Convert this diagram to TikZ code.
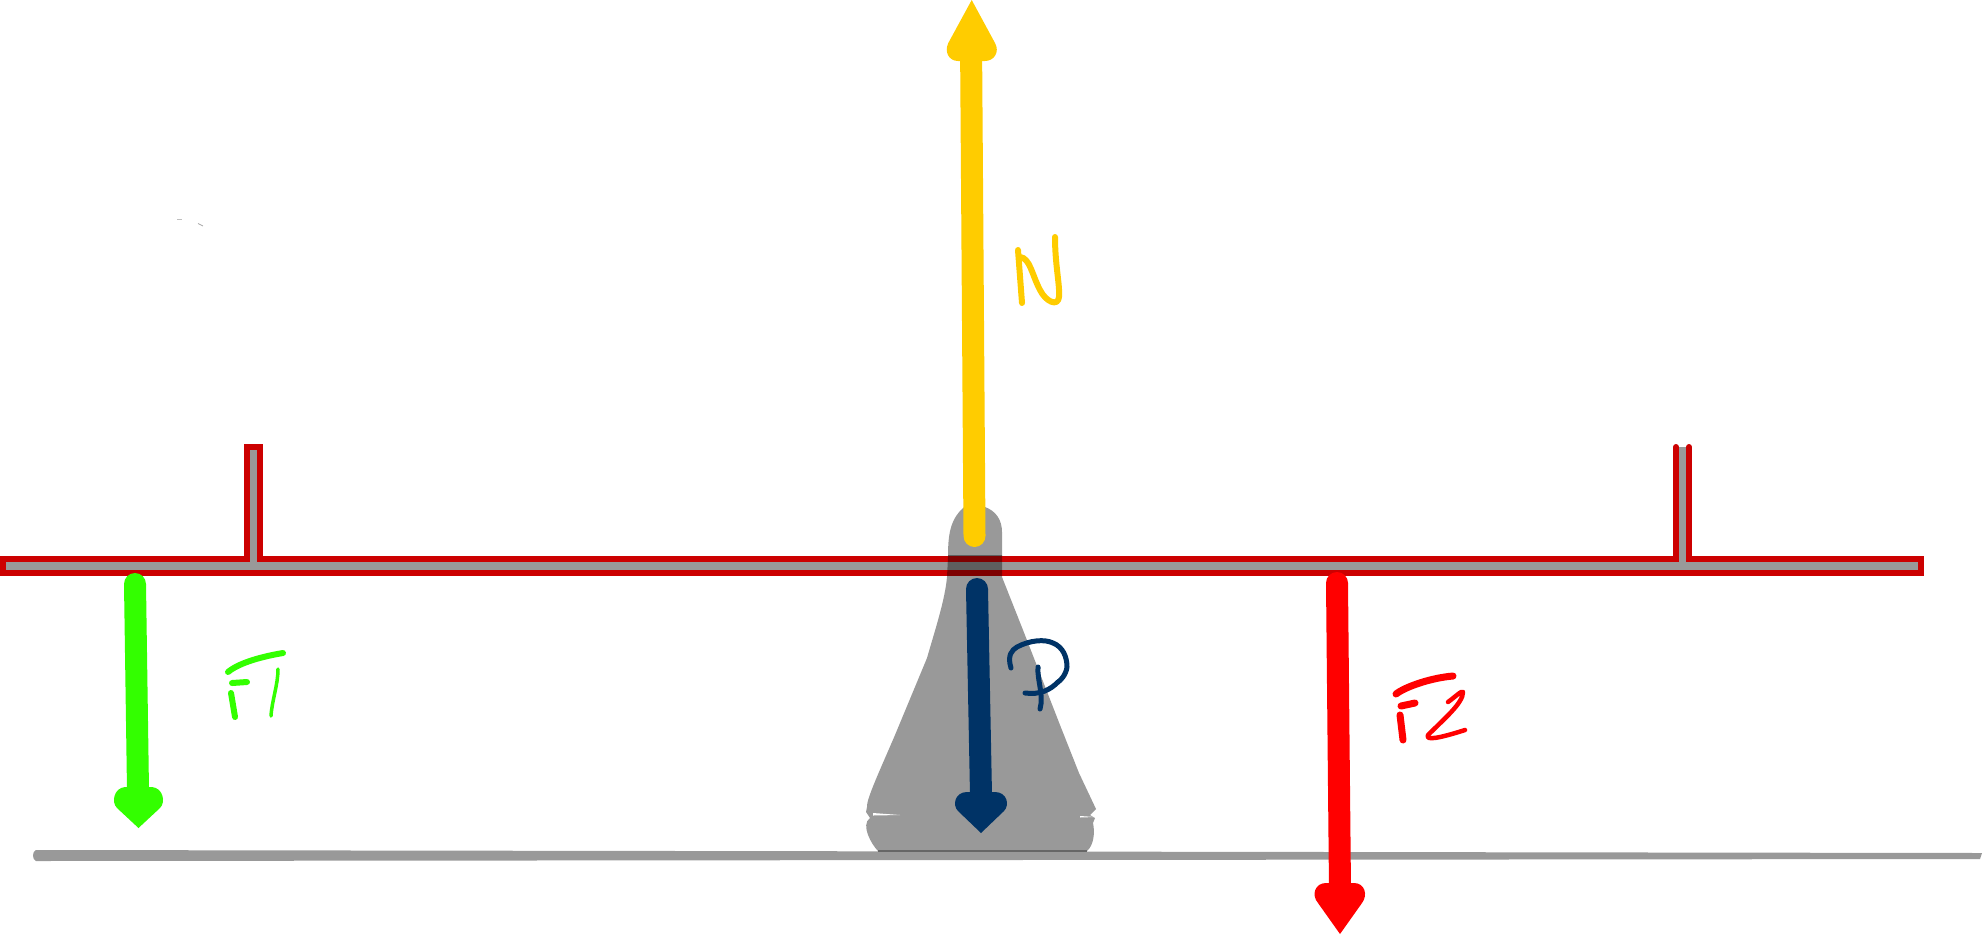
\documentclass[tikz,border=0pt]{standalone}
\definecolor{barred}{HTML}{CC0000}
\definecolor{steel}{HTML}{999999}
\definecolor{yel}{HTML}{FFCC00}
\definecolor{navy}{HTML}{003366}
\definecolor{lime}{HTML}{33FF00}
\definecolor{fred}{HTML}{FF0000}
\tikzset{
  shaft/.style={line width=22pt,line cap=round},
  ink/.style={line cap=round,line join=round,line width=#1},
  ink/.default=4.5pt,
  barline/.style={barred,line width=6pt,line join=miter}
}
\def\bodypath{(963,508) .. controls (970,502) and (978,503) .. (985,507)
  .. controls (996,511) and (1002,520) .. (1002,532) -- (1002,577)
  -- (1023,630) -- (1060,725) -- (1079,773) -- (1096,809) -- (1090,815) -- (1095,818)
  -- (1093,823) .. controls (1095,832) and (1094,845) .. (1087,851) -- (878,851)
  .. controls (872,845) and (860,825) .. (870,818) -- (866,812) -- (867,807)
  .. controls (866,800) and (880,770) .. (895,735) -- (927,658)
  .. controls (935,630) and (945,600) .. (947,577) -- (948,557)
  .. controls (948,535) and (950,520) .. (963,508) -- cycle}
\begin{document}
\begin{tikzpicture}[x=1pt,y=-1pt]
\useasboundingbox (0,0) rectangle (1986,938);
% ground
\fill[steel] (36,850) -- (1982,853) -- (1980,859) -- (36,861) .. controls (32,860) and (32,851) .. (36,850) -- cycle;
% body
\fill[steel] \bodypath;
\fill[black!60] (878,849.5) rectangle (1087,852);
\fill[white] (873,813) -- (900,815) -- (873,815.5) -- cycle;
\fill[white] (1080,816) -- (1095,817) -- (1080,817.5) -- cycle;
% bar
\fill[steel] (3,559) -- (247,559) -- (247,447) -- (260,447) -- (260,559) -- (1676,559) -- (1676,447) -- (1689,447) -- (1689,559) -- (1921,559) -- (1921,572.7) -- (3,572.7) -- cycle;
\draw[barline,line cap=round] (1689,447) -- (1689,559) -- (1921,559) -- (1921,572.7) -- (3,572.7) -- (3,559) -- (247,559) -- (247,447) -- (260,447) -- (260,559) -- (1676,559) -- (1676,447);
% overlap of body and bar
\begin{scope}
\clip \bodypath;
\fill[black,opacity=.38] (900,555) rectangle (1050,576);
\end{scope}
% N
\coordinate (nb) at (974.5,536);
\coordinate (nt) at (971,58);
\draw[yel,shaft] (nb) -- ([yshift=20pt]nt);
\fill[yel] (971.7,0) -- (995,43) .. controls (1000,52) and (994,61) .. (985,61) -- (958,61)
  .. controls (949,61) and (944,52) .. (948.3,43) -- cycle;
\draw[yel,ink=6pt] (1018,250) -- (1022,303);
\draw[yel,ink=6pt] (1020,257) .. controls (1030,258) and (1032,275) .. (1040,290)
  .. controls (1046,302) and (1058,307) .. (1059,297) .. controls (1060,285) and (1055,265) .. (1055,237);
% F1
\coordinate (ga) at (135,584);
\coordinate (gb) at (138,790);
\draw[lime,shaft,line cap=butt] (ga) -- (gb);
\fill[lime] (ga) circle (11pt);
\fill[lime] (138.5,828) -- (117,808) .. controls (111,802) and (114,788) .. (125,787) -- (152,787)
  .. controls (163,788) and (166,802) .. (160,808) -- cycle;
\draw[lime,ink=6pt] (228,672) .. controls (240,662) and (265,656) .. (283,653);
\draw[lime,ink=6pt] (232,683) -- (247,682);
\draw[lime,ink=6pt] (231,693) -- (235,717);
\draw[lime,ink=3.5pt] (278,669) .. controls (278,685) and (272,700) .. (271,716);
% P
\coordinate (pa) at (977,589);
\coordinate (pb) at (981,795);
\draw[navy,shaft,line cap=butt] (pa) -- (pb);
\fill[navy] (pa) circle (11pt);
\fill[navy] (981,833) -- (958,811) .. controls (952,805) and (955,792) .. (967,792) -- (995,792)
  .. controls (1007,792) and (1010,805) .. (1004,811) -- cycle;
\draw[navy,ink=5pt] (1011,668) .. controls (1007,655) and (1012,650) .. (1017,647)
  .. controls (1030,640) and (1045,639) .. (1053,643) .. controls (1063,647) and (1067,657) .. (1067,667)
  .. controls (1066,675) and (1060,681) .. (1058,682) .. controls (1050,690) and (1040,695) .. (1025,693);
\draw[navy,ink=5pt] (1038,667) .. controls (1037,680) and (1044,695) .. (1040,709);
% F2
\coordinate (ra) at (1337,583);
\coordinate (rb) at (1340,890);
\draw[fred,shaft,line cap=butt] (ra) -- (rb);
\fill[fred] (ra) circle (11pt);
\fill[fred] (1340,934) -- (1318,903) .. controls (1311,895) and (1315,883) .. (1326,883) -- (1354,883)
  .. controls (1365,883) and (1368,895) .. (1362,903) -- cycle;
\draw[fred,ink=7pt] (1396,694) .. controls (1405,687) and (1430,678) .. (1453,676);
\draw[fred,ink=7pt] (1401,706) -- (1415,703);
\draw[fred,ink=7pt] (1400,715) -- (1403,740);
\draw[fred,ink=4.5pt] (1448,702) .. controls (1455,697) and (1462,690) .. (1463,692)
  .. controls (1463,703) and (1445,718) .. (1428,735) .. controls (1425,741) and (1440,738) .. (1465,730);
% specks
\draw[black!25,line width=.6pt] (177,219.3) -- (182,219.3);
\draw[black!35,line width=.8pt] (198,223.5) -- (203,226);
\end{tikzpicture}
\end{document}
